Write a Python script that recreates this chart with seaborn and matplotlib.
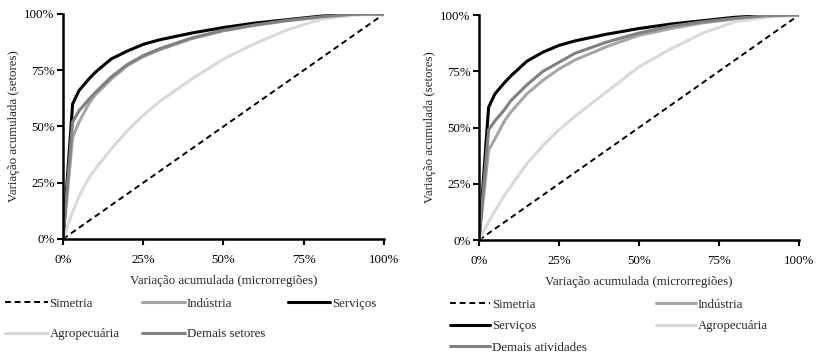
import numpy as np
import pandas as pd
import matplotlib.pyplot as plt
import seaborn as sns
from matplotlib.ticker import PercentFormatter

# cumulative share of microregions (x) and of sector variation (y)
x = [0, 0.03, 0.05, 0.08, 0.10, 0.15, 0.20, 0.25, 0.30, 0.40, 0.50,
     0.60, 0.70, 0.80, 0.90, 1.0]

# left panel
servicos_l = [0, 0.60, 0.66, 0.71, 0.74, 0.80, 0.835, 0.865, 0.885, 0.915,
              0.94, 0.96, 0.975, 0.99, 0.998, 1.0]
industria_l = [0, 0.45, 0.52, 0.60, 0.64, 0.71, 0.77, 0.81, 0.84, 0.89,
               0.925, 0.95, 0.97, 0.985, 0.997, 1.0]
demais_l = [0, 0.52, 0.57, 0.62, 0.65, 0.72, 0.775, 0.815, 0.845, 0.893,
            0.928, 0.952, 0.972, 0.987, 0.998, 1.0]
agro_l = [0, 0.12, 0.19, 0.27, 0.31, 0.40, 0.48, 0.55, 0.61, 0.71,
          0.80, 0.87, 0.93, 0.975, 0.995, 1.0]

# right panel
servicos_r = [0, 0.59, 0.65, 0.70, 0.73, 0.795, 0.835, 0.865, 0.885, 0.915,
              0.94, 0.96, 0.975, 0.99, 0.998, 1.0]
industria_r = [0, 0.40, 0.45, 0.53, 0.57, 0.65, 0.71, 0.76, 0.80, 0.86,
               0.91, 0.94, 0.965, 0.983, 0.996, 1.0]
demais_r = [0, 0.49, 0.53, 0.58, 0.62, 0.69, 0.75, 0.79, 0.83, 0.88,
            0.92, 0.95, 0.97, 0.985, 0.997, 1.0]
agro_r = [0, 0.08, 0.13, 0.20, 0.24, 0.34, 0.42, 0.49, 0.55, 0.66,
          0.77, 0.85, 0.92, 0.97, 0.99, 1.0]

sns.set_style("ticks")
plt.rcParams['font.family'] = ['Liberation Serif', 'DejaVu Serif']
plt.rcParams['font.size'] = 9.3

fig = plt.figure(figsize=(8.17, 3.54), dpi=100)
axL = fig.add_axes([0.0771, 0.3249, 0.3929, 0.6356])
axR = fig.add_axes([0.5863, 0.3220, 0.3917, 0.6356])

cols = {"Simetria": "black", "Serviços": "black", "Indústria": "#a6a6a6",
        "Agropecuária": "#d9d9d9", "Demais": "#808080"}


def draw(ax, series, demais_name):
    sns.lineplot(x=[0, 1], y=[0, 1], ax=ax, color="black", lw=1.4,
                 linestyle=(0, (3, 2)), label="Simetria")
    sns.lineplot(x=x, y=series[0], ax=ax, color=cols["Indústria"], lw=2.2,
                 label="Indústria")
    sns.lineplot(x=x, y=series[1], ax=ax, color=cols["Serviços"], lw=2.2,
                 label="Serviços")
    sns.lineplot(x=x, y=series[2], ax=ax, color=cols["Agropecuária"], lw=2.2,
                 label="Agropecuária")
    sns.lineplot(x=x, y=series[3], ax=ax, color=cols["Demais"], lw=2.2,
                 label=demais_name)
    ax.set_xlim(0, 1)
    ax.set_ylim(0, 1)
    ax.set_xticks(np.arange(0, 1.01, 0.25))
    ax.set_yticks(np.arange(0, 1.01, 0.25))
    ax.xaxis.set_major_formatter(PercentFormatter(1, decimals=0))
    ax.yaxis.set_major_formatter(PercentFormatter(1, decimals=0))
    ax.tick_params(direction="out", length=4, width=1.5, colors="black")
    ax.tick_params(axis="x", pad=7)
    ax.tick_params(axis="y", pad=2)
    sns.despine(ax=ax)
    for s in ["left", "bottom"]:
        ax.spines[s].set_linewidth(1.8)
        ax.spines[s].set_color("black")
    ax.set_xlabel("Variação acumulada (microrregiões)", labelpad=6)
    ax.set_ylabel("Variação acumulada (setores)", labelpad=3)
    return ax.get_legend_handles_labels()


h, l = draw(axL, [industria_l, servicos_l, agro_l, demais_l], "Demais setores")
axL.get_legend().remove()
order = [0, 3, 1, 4, 2]
axL.legend([h[i] for i in order], [l[i] for i in order], ncol=3,
           loc="upper left", bbox_to_anchor=(-0.181, -0.262), frameon=False,
           borderpad=0, borderaxespad=0, handlelength=3.3, handletextpad=0.15,
           columnspacing=1.75, labelspacing=1.4)

h, l = draw(axR, [industria_r, servicos_r, agro_r, demais_r],
            "Demais atividades")
axR.get_legend().remove()
order = [0, 2, 4, 1, 3]
axR.legend([h[i] for i in order], [l[i] for i in order], ncol=2,
           loc="upper left", bbox_to_anchor=(-0.09, -0.262), frameon=False,
           borderpad=0, borderaxespad=0, handlelength=3.1, handletextpad=0.15,
           columnspacing=5.3, labelspacing=0.72)

plt.savefig("out.png", dpi=100)
